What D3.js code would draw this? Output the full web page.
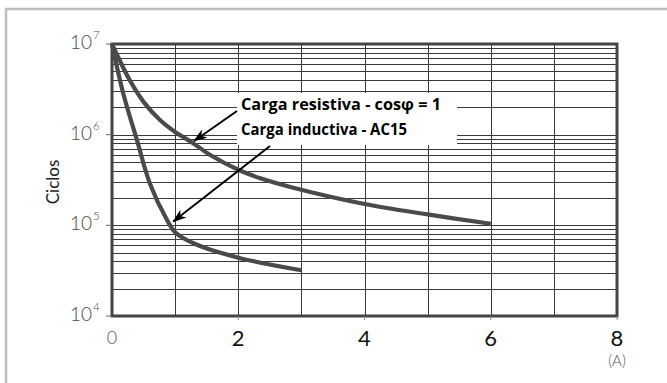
<!DOCTYPE html>
<html><head><meta charset="utf-8">
<script src="https://cdn.jsdelivr.net/npm/d3@7"></script>
<style>
html,body{margin:0;padding:0;background:#fff;}
svg{display:block;}
</style></head>
<body>
<script>
// ---- data ----
const resistiveX = [0, 0.28, 0.5, 0.76, 1.0, 1.28, 1.55, 2, 2.35, 2.87, 4, 5, 6];
const resistiveY = [1e7, 4.0e6, 2.3e6, 1.45e6, 1.07e6, 8.1e5, 6.0e5, 4.1e5, 3.3e5, 2.6e5, 1.72e5, 1.32e5, 1.04e5];
const inductiveX = [0, 0.17, 0.4, 0.6, 0.87, 1.0, 1.3, 2, 3];
const inductiveY = [1e7, 3.0e6, 8.5e5, 2.9e5, 1.15e5, 8.4e4, 6.3e4, 4.4e4, 3.2e4];
const xTickLabels = ["0", "2", "4", "6", "8"];
const xTickValues = [0, 2, 4, 6, 8];
const yExponents = [4, 5, 6, 7];
const legendLines = ["Carga resistiva - cos\u03C6 = 1", "Carga inductiva - AC15"];
const yTitle = "Ciclos";
const xUnit = "(A)";

const W = 667, H = 383;
const svg = d3.select("body").append("svg").attr("width", W).attr("height", H);
const FONT = "Lato, 'DejaVu Sans', sans-serif";

// outer light frame
svg.append("path").attr("d", "M6,383 L6,9 L667,9")
  .attr("fill", "none").attr("stroke", "#bdbdbd").attr("stroke-width", 2.5);

const x = d3.scaleLinear().domain([0, 8]).range([112, 617]);
const y = d3.scaleLog().domain([1e4, 1e7]).range([316, 44]);

// horizontal grid
const g = svg.append("g");
g.selectAll("line.h").data(y.ticks()).join("line")
  .attr("x1", x(0)).attr("x2", x(8))
  .attr("y1", d => Math.round(y(d)) + 0.5).attr("y2", d => Math.round(y(d)) + 0.5)
  .attr("stroke", "#3a3a3a").attr("stroke-width", 1);
// vertical grid
g.selectAll("line.v").data(x.ticks(8)).join("line")
  .attr("x1", d => Math.round(x(d)) + 0.5).attr("x2", d => Math.round(x(d)) + 0.5)
  .attr("y1", y(1e7)).attr("y2", y(1e4))
  .attr("stroke", "#3a3a3a").attr("stroke-width", 1);

// frame
svg.append("rect").attr("x", x(0)).attr("y", y(1e7))
  .attr("width", x(8) - x(0)).attr("height", y(1e4) - y(1e7))
  .attr("fill", "none").attr("stroke", "#444").attr("stroke-width", 3);

// y ticks + labels
yExponents.forEach(e => {
  const yy = y(Math.pow(10, e));
  svg.append("line").attr("x1", x(0) - 6).attr("x2", x(0)).attr("y1", yy).attr("y2", yy)
    .attr("stroke", "#666").attr("stroke-width", 1);
  svg.append("text").attr("x", 92).attr("y", yy + 5)
    .attr("text-anchor", "end").attr("font-family", FONT)
    .attr("font-weight", 300).attr("font-size", 19).attr("fill", "#4a4a4a").text("10");
  svg.append("text").attr("x", 93).attr("y", yy - 5)
    .attr("font-family", FONT).attr("font-weight", 300)
    .attr("font-size", 11.5).attr("fill", "#4a4a4a").text(e);
});

// x ticks + labels
xTickValues.forEach((v, i) => {
  const xx = x(v);
  if (v > 0) svg.append("line").attr("x1", xx).attr("x2", xx).attr("y1", y(1e4)).attr("y2", y(1e4) + 4)
    .attr("stroke", "#888").attr("stroke-width", 1);
  svg.append("text").attr("x", xx).attr("y", v === 0 ? 344 : 346)
    .attr("text-anchor", "middle").attr("font-family", FONT)
    .attr("font-weight", v === 0 ? 300 : 400)
    .attr("font-size", v === 0 ? 18 : 22).attr("fill", v === 0 ? "#555" : "#111")
    .text(xTickLabels[i]);
});
svg.append("text").attr("x", x(8)).attr("y", 366).attr("text-anchor", "middle")
  .attr("font-family", FONT).attr("font-weight", 300)
  .attr("font-size", 15).attr("fill", "#555").text(xUnit);

// y title
svg.append("text").attr("transform", "translate(59,182) rotate(-90)")
  .attr("text-anchor", "middle").attr("font-family", FONT)
  .attr("font-size", 17).attr("fill", "#222").text(yTitle);

// curves
const line = d3.line().x(d => x(d[0])).y(d => y(d[1])).curve(d3.curveCatmullRom.alpha(0.5));
const resData = resistiveX.map((v, i) => [v, resistiveY[i]]);
const indData = inductiveX.map((v, i) => [v, inductiveY[i]]);
[resData, indData].forEach(dd => {
  svg.append("path").attr("d", line(dd)).attr("fill", "none")
    .attr("stroke", "#4a4a4a").attr("stroke-width", 4.2)
    .attr("stroke-linecap", "butt").attr("stroke-linejoin", "round");
});

// annotation box
svg.append("rect").attr("x", 237).attr("y", 93).attr("width", 220).attr("height", 52).attr("fill", "#fff");
legendLines.forEach((t, i) => {
  svg.append("text").attr("x", 241).attr("y", 110 + i * 25)
    .attr("font-family", "'Open Sans', 'Liberation Sans', sans-serif").attr("font-weight", 700)
    .attr("font-size", 16.5).attr("fill", "#000")
    .attr("textLength", i === 0 ? 200 : 166).attr("lengthAdjust", "spacingAndGlyphs")
    .text(t);
});

// arrows
const defs = svg.append("defs");
defs.append("marker").attr("id", "ah").attr("viewBox", "0 0 14 10").attr("refX", 13).attr("refY", 5)
  .attr("markerWidth", 14).attr("markerHeight", 10).attr("markerUnits", "userSpaceOnUse")
  .attr("orient", "auto")
  .append("path").attr("d", "M0,0 L14,5 L0,10 L4,5 Z").attr("fill", "#000");
const arrows = [
  {from: [237, 111], to: [x(1.3), y(8.1e5) - 2]},
  {from: [270, 146], to: [x(0.97), y(1.1e5)]}
];
arrows.forEach(a => {
  svg.append("line").attr("x1", a.from[0]).attr("y1", a.from[1])
    .attr("x2", a.to[0]).attr("y2", a.to[1])
    .attr("stroke", "#000").attr("stroke-width", 2).attr("marker-end", "url(#ah)");
});
</script>
</body></html>
